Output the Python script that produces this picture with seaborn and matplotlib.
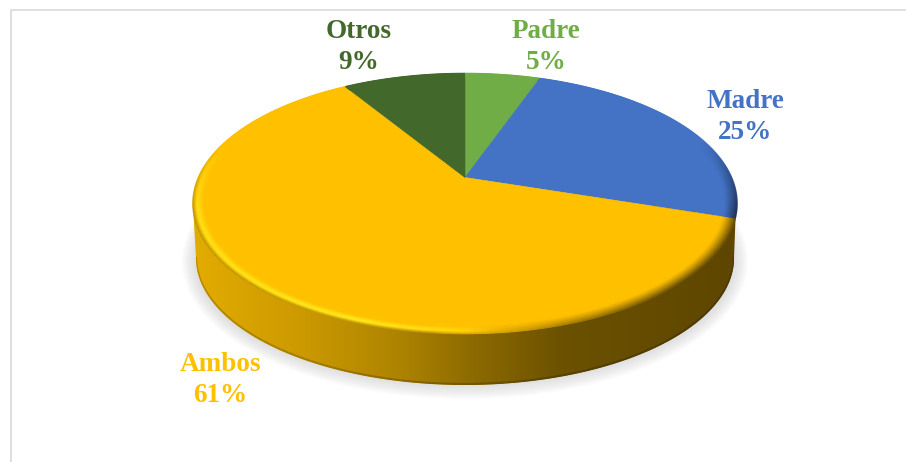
import numpy as np
import seaborn as sns
import matplotlib.pyplot as plt
from matplotlib.collections import LineCollection
from matplotlib.colors import LinearSegmentedColormap, to_rgb
from matplotlib.patches import Ellipse

sns.set_theme(style='white')
plt.rcParams['font.family'] = ['Liberation Serif', 'DejaVu Serif']

labels = ['Padre', 'Madre', 'Ambos', 'Otros']
values = [5.4, 24.6, 61.2, 8.8]
colors = ['#70AD47', '#4472C4', '#FFC000', '#43682B']
label_pos = [(546, 47), (745, 117), (220, 380), (359, 47)]

W, H = 906, 462
fig = plt.figure(figsize=(W / 100, H / 100), dpi=100)
ax = fig.add_axes([0, 0, 1, 1])
ax.set_xlim(0, W)
ax.set_ylim(H, 0)
ax.axis('off')

# frame of the chart area
ax.plot([11, 11, 906], [462, 10, 10], color='#D9D9D9', lw=1.2, zorder=0)

# apex and perspective of the tilted disc
cx, cy = 465, 177.5
sx, sy, k = 266.5, 124.8, 0.2


def project(theta, r=1.0):
    # unit disc to screen, nearer side comes out bigger
    x = r * np.cos(theta)
    y = r * np.sin(theta)
    w = 1 + k * y
    return cx + sx * x / w, cy - sy * y / w


# soft shadow under the pie
for i in range(14):
    ax.add_patch(Ellipse((465, 261), 566 - i * 3.2, 276 - i * 3.2,
                         color='#707070', alpha=0.022, lw=0, zorder=1))

# side wall, gold gradient from left to right
side = LinearSegmentedColormap.from_list(
    'side', [(0, '#E3AC00'), (0.2, '#CC9A00'), (0.38, '#AD8300'), (0.52, '#8C6A00'),
             (0.68, '#6B5100'), (1, '#5E4600')])
im = ax.imshow(np.linspace(0, 1, 512).reshape(1, -1), extent=[192, 737, 390, 190],
               cmap=side, aspect='auto', zorder=2)
ax.set_xlim(0, W)
ax.set_ylim(H, 0)
t = np.linspace(0, np.pi, 240)
bx = 465 + 269 * np.cos(t)
by = 258 + 127 * np.sin(t)
outline = np.c_[np.r_[736, bx, 193], np.r_[206, by, 206]]
wall = plt.Polygon(outline, fc='none', ec='none', zorder=2)
ax.add_patch(wall)
im.set_clip_path(wall)

# darker lip along the foot of the wall
lip = LineCollection([np.c_[bx[i:i + 2], by[i:i + 2] - 1] for i in range(len(t) - 1)],
                     colors=[tuple(0.8 * c for c in to_rgb(side((x - 192) / 545))[:3])
                             for x in bx[:-1]], linewidths=1.6, zorder=3)
lip.set_clip_path(wall)
ax.add_collection(lip)

# angles come from the pie itself, on a helper axes that is then dropped
helper = fig.add_axes([0, 0, 0.1, 0.1])
wedges, _ = helper.pie(values, startangle=90, counterclock=False)
spans = [(np.radians(w.theta1), np.radians(w.theta2)) for w in wedges]
helper.remove()

# top surface
for (t1, t2), col in zip(spans, colors):
    th = np.linspace(t1, t2, 300)
    px, py = project(th)
    ax.fill(np.r_[cx, px], np.r_[cy, py], color=col, lw=0.4, zorder=4)


def rim_colour(th, r, base):
    # lit on the near left, in shade on the near right
    nx, ny = np.cos(th), np.sin(th)
    fade = np.interp(ny, [-0.25, 0.3], [1, 0])
    dark = np.interp(nx, [0.0, 0.3, 0.7, 1], [0, 0.55, 1, 1]) * fade
    glow = np.interp(nx, [-1, -0.35, -0.05, 0.12], [0.75, 1, 0.6, 0]) * fade
    u = (1 - r) / 0.045
    dark = dark * np.clip(1 - u, 0, 1) ** 1.2
    glow = glow * np.exp(-((u - 0.42) / 0.3) ** 2)
    edge = np.clip(1 - u / 0.3, 0, 1) * 0.25 * fade * np.interp(nx, [-0.1, 0.15], [1, 0])
    base = np.array(to_rgb(base))
    c = base + glow * (np.array(to_rgb('#FFE81A')) - base)
    c = c + dark * (base * 0.37 - c)
    return c * (1 - edge)


# bevel round the edge of the disc, drawn ring by ring
for (t1, t2), col in zip(spans, colors):
    for r in np.linspace(1.0, 0.955, 16):
        th = np.linspace(t1, t2, 320)
        px, py = project(th, r)
        segs = [np.c_[px[i:i + 2], py[i:i + 2]] for i in range(len(th) - 1)]
        rgb = [rim_colour(0.5 * (th[i] + th[i + 1]), r, col) for i in range(len(th) - 1)]
        ax.add_collection(LineCollection(segs, colors=rgb, linewidths=1.1,
                                         capstyle='butt', zorder=5))

# data labels
for lab, val, col, (x, y) in zip(labels, values, colors, label_pos):
    ax.text(x, y, f'{lab}\n{val:.0f}%', color=col, ha='center', va='center',
            fontsize=19.5, fontweight='bold', linespacing=1.28, zorder=6)

fig.savefig('out.png', dpi=100)
